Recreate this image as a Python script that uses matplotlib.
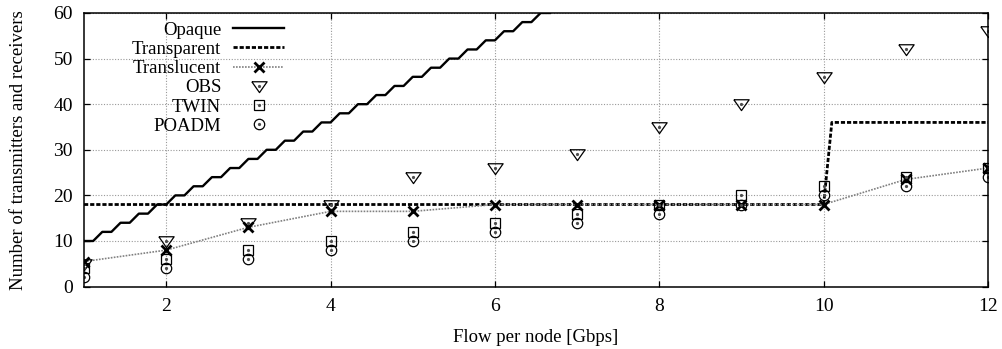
import matplotlib
matplotlib.use('Agg')
import matplotlib.pyplot as plt

plt.rcParams['font.family'] = ['Liberation Serif', 'DejaVu Serif']
plt.rcParams['font.size'] = 13.5

# Opaque: staircase
opaque_x = [1.000, 1.111, 1.222, 1.333, 1.444, 1.556, 1.667, 1.778, 1.889, 2.000,
            2.111, 2.222, 2.333, 2.444, 2.556, 2.667, 2.778, 2.889, 3.000,
            3.111, 3.222, 3.333, 3.444, 3.556, 3.667, 3.778, 3.889, 4.000,
            4.111, 4.222, 4.333, 4.444, 4.556, 4.667, 4.778, 4.889, 5.000,
            5.111, 5.222, 5.333, 5.444, 5.556, 5.667, 5.778, 5.889, 6.000,
            6.111, 6.222, 6.333, 6.444, 6.556, 6.667]
opaque_y = [10, 10, 12, 12, 14, 14, 16, 16, 18, 18,
            20, 20, 22, 22, 24, 24, 26, 26, 28,
            28, 30, 30, 32, 32, 34, 34, 36, 36,
            38, 38, 40, 40, 42, 42, 44, 44, 46,
            46, 48, 48, 50, 50, 52, 52, 54, 54,
            56, 56, 58, 58, 60, 60]

transparent_x = [1, 10, 10.1, 12]
transparent_y = [18, 18, 36, 36]

flow = [1, 2, 3, 4, 5, 6, 7, 8, 9, 10, 11, 12]
translucent = [5.5, 8, 13, 16.5, 16.5, 18, 18, 18, 18, 18, 23.5, 26]
obs = [5, 10, 14, 18, 24, 26, 29, 35, 40, 46, 52, 56]
twin = [4, 6, 8, 10, 12, 14, 16, 18, 20, 22, 24, 26]
poadm = [2, 4, 6, 8, 10, 12, 14, 16, 18, 20, 22, 24]

fig = plt.figure(figsize=(10.03, 3.49), dpi=100)
ax = fig.add_axes([0.0838, 0.1788, 0.9012, 0.784])

tri = [(-1, 0.62), (1, 0.62), (0, -0.8), (-1, 0.62)]

l_op, = ax.plot(opaque_x, opaque_y, color='black', lw=1.7)
l_tp, = ax.plot(transparent_x, transparent_y, color='black', lw=2,
                linestyle=(0, (1.5, 0.7)))
l_tl, = ax.plot(flow, translucent, color='0.5', lw=1.2, linestyle=(0, (1, 0.8)),
                marker='x', ms=7.5, mec='black', mew=2)
l_obs, = ax.plot(flow, obs, ls='none', marker=tri, ms=11, mfc='none', mec='black', mew=0.9)
d_obs, = ax.plot(flow, obs, ls='none', marker='o', ms=1.3, color='0.3')
l_twin, = ax.plot(flow, twin, ls='none', marker='s', ms=6.5, mfc='none', mec='black', mew=0.9)
d_twin, = ax.plot(flow, twin, ls='none', marker='o', ms=1.3, color='0.3')
l_po, = ax.plot(flow, poadm, ls='none', marker='o', ms=7.5, mfc='none', mec='black', mew=0.9)
d_po, = ax.plot(flow, poadm, ls='none', marker='o', ms=1.3, color='0.3')

ax.set_xlim(1, 12)
ax.set_ylim(0, 60)
ax.set_xticks([2, 4, 6, 8, 10, 12])
ax.set_yticks([0, 10, 20, 30, 40, 50, 60])
ax.tick_params(direction='in', length=4, top=True, right=True, width=0.9, labelsize=14)
ax.tick_params(axis='x', pad=8.5)
ax.tick_params(axis='y', pad=8)
ax.grid(True, color='0.6', linestyle=(0, (1, 1.5)), lw=0.8)
for s in ax.spines.values():
    s.set_linewidth(1.1)

ax.set_xlabel('Flow per node [Gbps]', labelpad=10)
ax.set_ylabel('Number of transmitters and receivers', labelpad=19)

ax.legend([l_op, l_tp, l_tl, (l_obs, d_obs), (l_twin, d_twin), (l_po, d_po)],
          ['Opaque', 'Transparent', 'Translucent', 'OBS', 'TWIN', 'POADM'],
          loc='upper right', bbox_to_anchor=(0.221, 0.968), frameon=False,
          markerfirst=False, numpoints=1, handlelength=2.7, handletextpad=0.64,
          labelspacing=0.11, borderpad=0, borderaxespad=0)

fig.savefig('out.png', dpi=100)
